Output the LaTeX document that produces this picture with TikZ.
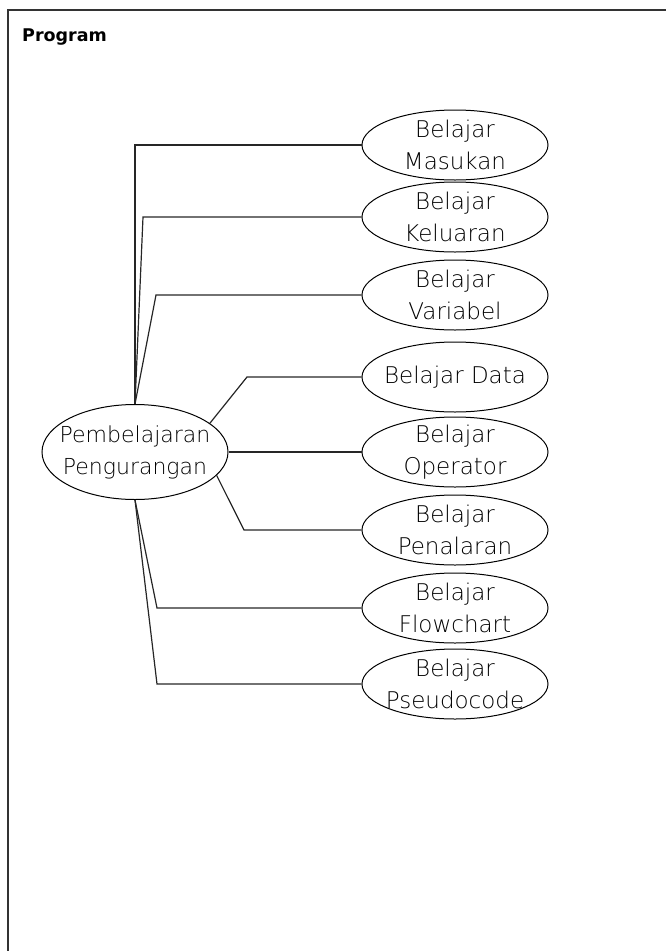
\documentclass[tikz,border=0pt]{standalone}
\usepackage{fontspec}
\usetikzlibrary{shapes.geometric}
\newfontfamily\labelfont{DejaVu Sans ExtraLight}
\newfontfamily\titlefont{DejaVu Sans}
\begin{document}
\begin{tikzpicture}[x=1pt,y=-1pt,
  topic/.style={draw=black, line width=1pt, ellipse,
    inner xsep=-60pt, inner ysep=-30pt,
    minimum width=186pt, minimum height=70pt, align=center,
    font=\labelfont\fontsize{23}{32}\selectfont},
  hub/.style={topic, minimum height=95pt,
    font=\labelfont\fontsize{22}{32}\selectfont},
  link/.style={draw=black!85, line width=1.2pt},
  frame/.style={draw=black!80, line width=2pt}]
\useasboundingbox (0,0) rectangle (666,951);
\draw[frame] (8,10) rectangle (700,990);
\node[anchor=base west, inner sep=0pt, font=\titlefont\bfseries\fontsize{17.5}{20}\selectfont] (title) at (22,41) {Program};

% central topic
\node[hub] (c) at (135,452) {Pembelajaran\\Pengurangan};

% sub-topics on the right
\node[topic] (m1) at (455,145) {Belajar\\Masukan};
\node[topic] (m2) at (455,217) {Belajar\\Keluaran};
\node[topic] (m3) at (455,295) {Belajar\\Variabel};
\node[topic] (m4) at (455,377) {Belajar Data};
\node[topic] (m5) at (455,452) {Belajar\\Operator};
\node[topic] (m6) at (455,530) {Belajar\\Penalaran};
\node[topic] (m7) at (455,608) {Belajar\\Flowchart};
\node[topic] (m8) at (455,684) {Belajar\\Pseudocode};

% connectors
\draw[link] (c.north) |- (m1.west);
\draw[link] (c.north) -- (143,0 |- m2.west) -- (m2.west);
\draw[link] (c.north) -- (156,0 |- m3.west) -- (m3.west);
\draw[link] (c.21) -- (247,0 |- m4.west) -- (m4.west);
\draw[link] (c.east) -- (m5.west);
\draw[link] (c.-16) -- (244,0 |- m6.west) -- (m6.west);
\draw[link] (c.south) -- (157,0 |- m7.west) -- (m7.west);
\draw[link] (c.south) -- (157,0 |- m8.west) -- (m8.west);
\end{tikzpicture}
\end{document}
